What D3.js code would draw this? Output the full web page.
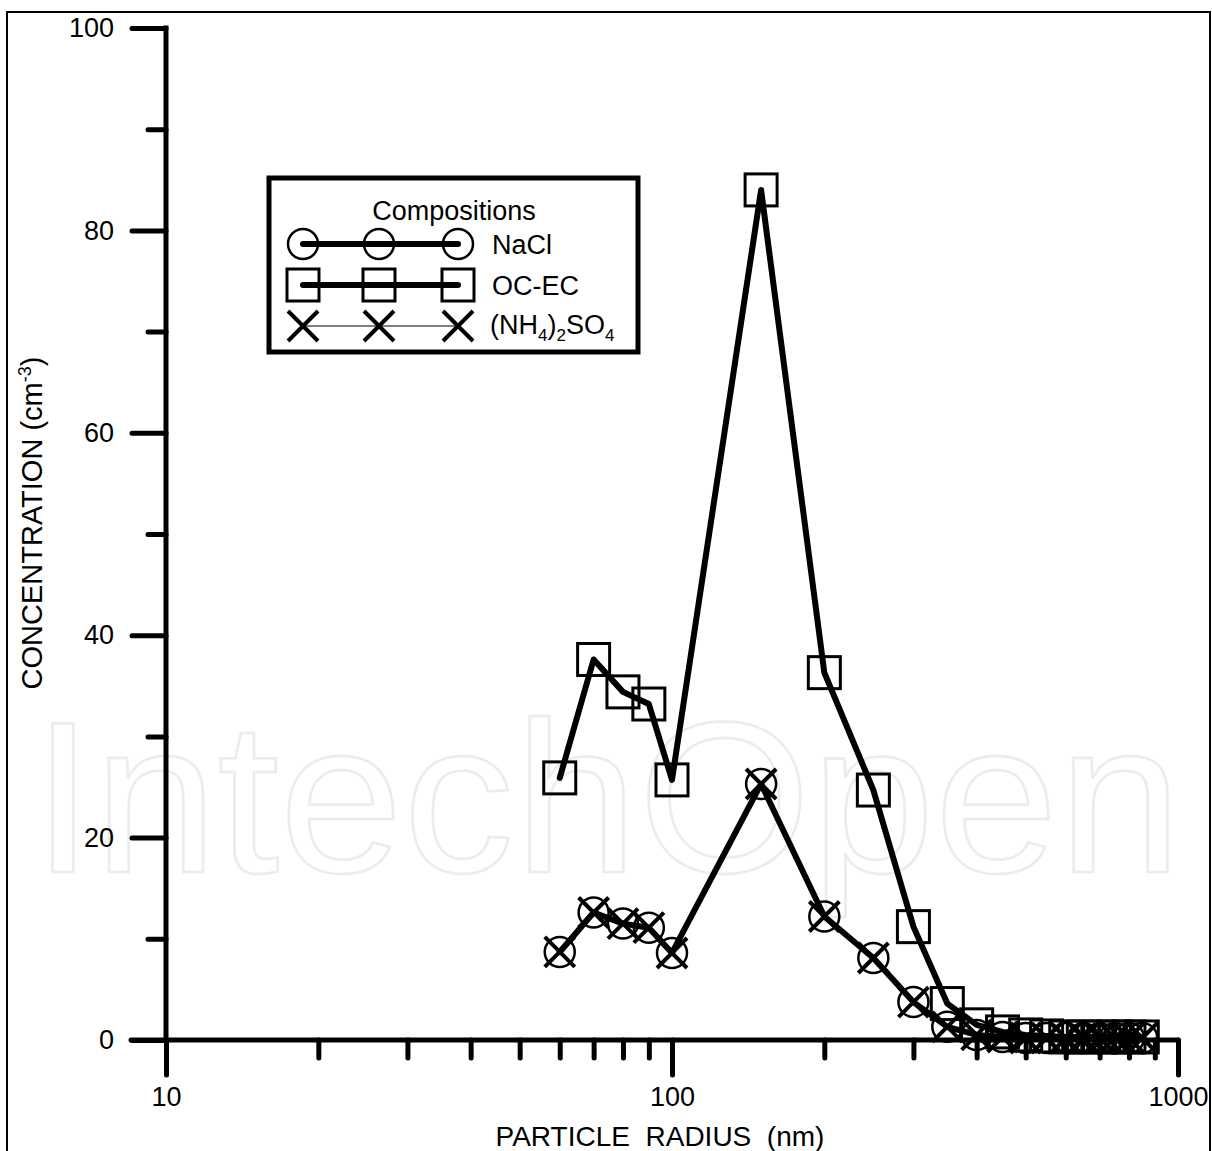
<!DOCTYPE html>
<html>
<head>
<meta charset="utf-8">
<script src="https://cdn.jsdelivr.net/npm/d3@7"></script>
<style>
  body { margin: 0; background: #fff; }
  text { font-family: "Liberation Sans", Arial, sans-serif; fill: #000; }
</style>
</head>
<body>
<div id="chart"></div>
<script>
// particle radius (nm)
var radius = [60, 70, 80, 90, 100, 150, 200, 250, 300, 350, 400, 450, 500, 550, 600, 650, 700, 750, 800, 850];
// concentration (cm-3)
var nacl   = [8.7, 12.6, 11.5, 11.1, 8.6, 25.3, 12.2, 8.1, 3.75, 1.3, 0.5, 0.3, 0.2, 0.2, 0.2, 0.2, 0.2, 0.2, 0.2, 0.2];
var ocec   = [25.9, 37.6, 34.4, 33.2, 25.7, 84.0, 36.3, 24.7, 11.2, 3.6, 1.5, 0.8, 0.5, 0.4, 0.3, 0.3, 0.3, 0.3, 0.3, 0.3];
var nh4so4 = [8.7, 12.6, 11.5, 11.1, 8.6, 25.3, 12.2, 8.1, 3.75, 1.3, 0.5, 0.3, 0.2, 0.2, 0.2, 0.2, 0.2, 0.2, 0.2, 0.2];

var xMajor = [10, 100, 1000];
var yMajor = [0, 20, 40, 60, 80, 100];

var W = 1212, H = 1151;
var FS = "27px", SUB = "17px";
var svg = d3.select("#chart").append("svg")
    .attr("width", W)
    .attr("height", H);

var x = d3.scaleLog().domain([10, 1000]).range([166, 1178]);
var y = d3.scaleLinear().domain([0, 100]).range([1040, 28]);

// outer frame
svg.append("rect")
    .attr("x", 7).attr("y", 12)
    .attr("width", 1203).attr("height", 1160)
    .attr("fill", "none").attr("stroke", "#000").attr("stroke-width", 2);

// watermark
svg.append("text")
    .attr("x", 32).attr("y", 872)
    .attr("textLength", 1150)
    .attr("lengthAdjust", "spacingAndGlyphs")
    .style("font-size", "215px")
    .style("fill", "none")
    .style("stroke", "#ececec")
    .style("stroke-width", 2.5)
    .text("IntechOpen");

// y axis
var yAxis = d3.axisLeft(y)
    .tickValues(d3.range(0, 101, 10))
    .tickSize(0)
    .tickFormat(function(d) { return yMajor.indexOf(d) >= 0 ? d : ""; });

var gy = svg.append("g")
    .attr("transform", "translate(166,0)")
    .call(yAxis);
gy.select(".domain").remove();
gy.selectAll(".tick line")
    .attr("x2", function(d) { return yMajor.indexOf(d) >= 0 ? -34 : -18; })
    .attr("stroke", "#000").attr("stroke-width", 5).attr("stroke-linecap", "round");
gy.selectAll(".tick text")
    .attr("x", -52)
    .style("font-size", FS)
    .style("font-family", "Liberation Sans, Arial, sans-serif");

svg.append("line")
    .attr("x1", 166).attr("x2", 166)
    .attr("y1", y(100)).attr("y2", y(0))
    .attr("stroke", "#000").attr("stroke-width", 5).attr("stroke-linecap", "square");

// x axis
var xTicks = [];
[10, 100].forEach(function(dec) {
  for (var k = 1; k < 10; k++) xTicks.push(dec * k);
});
xTicks.push(1000);

var xAxis = d3.axisBottom(x)
    .tickValues(xTicks)
    .tickSize(0)
    .tickFormat(function(d) { return xMajor.indexOf(d) >= 0 ? d : ""; });

var gx = svg.append("g")
    .attr("transform", "translate(0," + y(0) + ")")
    .call(xAxis);
gx.select(".domain").remove();
gx.selectAll(".tick line")
    .attr("y2", function(d) { return xMajor.indexOf(d) >= 0 ? 35 : 18; })
    .attr("stroke", "#000").attr("stroke-width", 5).attr("stroke-linecap", "round");
gx.selectAll(".tick text")
    .attr("y", 47)
    .style("font-size", FS)
    .style("font-family", "Liberation Sans, Arial, sans-serif");

svg.append("line")
    .attr("x1", 131).attr("x2", x(1000))
    .attr("y1", y(0)).attr("y2", y(0))
    .attr("stroke", "#000").attr("stroke-width", 5).attr("stroke-linecap", "round");

// axis titles
svg.append("text")
    .attr("x", x(100) - 12).attr("y", 1146)
    .attr("text-anchor", "middle")
    .attr("xml:space", "preserve")
    .style("font-size", "28px")
    .text("PARTICLE  RADIUS  (nm)");

var yt = svg.append("text")
    .attr("transform", "translate(42,523) rotate(-90)")
    .attr("text-anchor", "middle")
    .style("font-size", "29px");
yt.append("tspan").text("CONCENTRATION (cm");
yt.append("tspan").attr("dy", -11).style("font-size", "18px").text("-3");
yt.append("tspan").attr("dy", 11).text(")");

// series lines
var line = function(vals) {
  return d3.line()
      .x(function(d) { return x(d); })
      .y(function(d, i) { return y(vals[i]); })(radius);
};

var plot = svg.append("g");

plot.append("path").attr("d", line(ocec))
    .attr("fill", "none").attr("stroke", "#000").attr("stroke-width", 6)
    .attr("stroke-linecap", "round").attr("stroke-linejoin", "round");
plot.append("path").attr("d", line(nacl))
    .attr("fill", "none").attr("stroke", "#000").attr("stroke-width", 6)
    .attr("stroke-linecap", "round").attr("stroke-linejoin", "round");
plot.append("path").attr("d", line(nh4so4))
    .attr("fill", "none").attr("stroke", "#000").attr("stroke-width", 1);

// markers
function drawCircle(g, cx, cy) {
  g.append("circle").attr("cx", cx).attr("cy", cy).attr("r", 15)
      .attr("fill", "none").attr("stroke", "#000").attr("stroke-width", 2.5);
}
function drawSquare(g, cx, cy) {
  g.append("rect").attr("x", cx - 16).attr("y", cy - 16)
      .attr("width", 32).attr("height", 32)
      .attr("fill", "none").attr("stroke", "#000").attr("stroke-width", 3);
}
function drawCross(g, cx, cy) {
  var s = 15;
  g.append("path")
      .attr("d", "M" + (cx - s) + "," + (cy - s) + "L" + (cx + s) + "," + (cy + s)
               + "M" + (cx - s) + "," + (cy + s) + "L" + (cx + s) + "," + (cy - s))
      .attr("stroke", "#000").attr("stroke-width", 4).attr("fill", "none");
}

radius.forEach(function(r, i) { drawSquare(plot, x(r), y(ocec[i])); });
radius.forEach(function(r, i) { drawCircle(plot, x(r), y(nacl[i])); });
radius.forEach(function(r, i) { drawCross(plot, x(r), y(nh4so4[i])); });

// legend
var lg = svg.append("g");
lg.append("rect")
    .attr("x", 269).attr("y", 178).attr("width", 369).attr("height", 174)
    .attr("fill", "#fff").attr("stroke", "#000").attr("stroke-width", 5);
lg.append("text")
    .attr("x", 454).attr("y", 220)
    .attr("text-anchor", "middle")
    .style("font-size", FS)
    .text("Compositions");

var legendX = [303, 379, 458];
var rows = [
  { y: 244, draw: drawCircle, w: 6 },
  { y: 285, draw: drawSquare, w: 6 },
  { y: 326, draw: drawCross, w: 1 }
];
rows.forEach(function(r) {
  lg.append("line")
      .attr("x1", legendX[0]).attr("x2", legendX[2])
      .attr("y1", r.y).attr("y2", r.y)
      .attr("stroke", "#000").attr("stroke-width", r.w).attr("stroke-linecap", "round");
  legendX.forEach(function(lx) { r.draw(lg, lx, r.y); });
});

lg.append("text").attr("x", 492).attr("y", 254).style("font-size", FS).text("NaCl");
lg.append("text").attr("x", 492).attr("y", 295).style("font-size", FS).text("OC-EC");
var t3 = lg.append("text").attr("x", 490).attr("y", 334).style("font-size", FS);
t3.append("tspan").text("(NH");
t3.append("tspan").attr("dy", 7).style("font-size", SUB).text("4");
t3.append("tspan").attr("dy", -7).text(")");
t3.append("tspan").attr("dy", 7).style("font-size", SUB).text("2");
t3.append("tspan").attr("dy", -7).text("SO");
t3.append("tspan").attr("dy", 7).style("font-size", SUB).text("4");
</script>
</body>
</html>
